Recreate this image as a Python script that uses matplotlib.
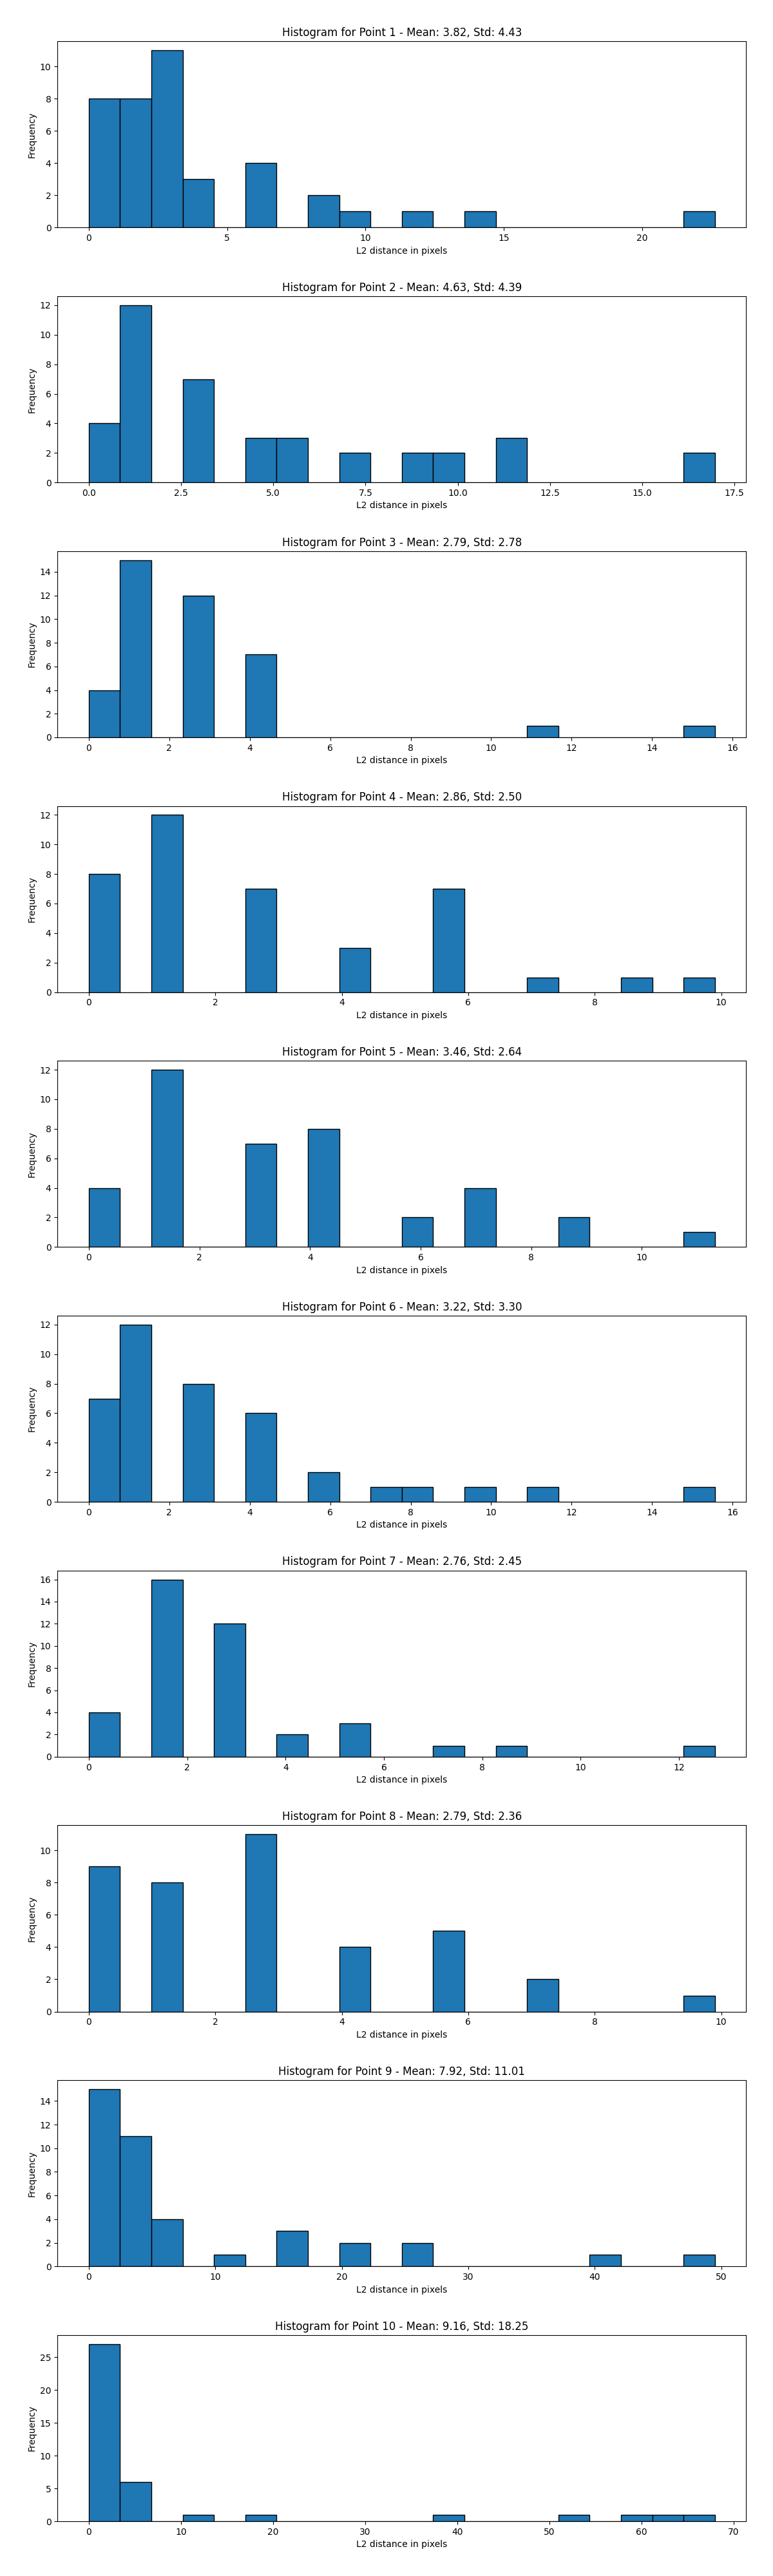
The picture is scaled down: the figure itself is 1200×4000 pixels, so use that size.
import numpy as np
import matplotlib
matplotlib.use("Agg")
import matplotlib.pyplot as plt

# Per-point histogram data: 20 equal-width bins spanning [range_min, range_max]
range_min = [0.0, 0.0, 0.0, 0.0, 0.0, 0.0, 0.0, 0.0, 0.0, 0.0]
range_max = [22.63, 16.97, 15.56, 9.90, 11.32, 15.56, 12.73, 9.90, 49.50, 67.96]

counts_p1 = [8, 8, 11, 3, 0, 4, 0, 2, 1, 0, 1, 0, 1, 0, 0, 0, 0, 0, 0, 1]
counts_p2 = [4, 12, 0, 7, 0, 3, 3, 0, 2, 0, 2, 2, 0, 3, 0, 0, 0, 0, 0, 2]
counts_p3 = [4, 15, 0, 12, 0, 7, 0, 0, 0, 0, 0, 0, 0, 0, 1, 0, 0, 0, 0, 1]
counts_p4 = [8, 0, 12, 0, 0, 7, 0, 0, 3, 0, 0, 7, 0, 0, 1, 0, 0, 1, 0, 1]
counts_p5 = [4, 0, 12, 0, 0, 7, 0, 8, 0, 0, 2, 0, 4, 0, 0, 2, 0, 0, 0, 1]
counts_p6 = [7, 12, 0, 8, 0, 6, 0, 2, 0, 1, 1, 0, 1, 0, 1, 0, 0, 0, 0, 1]
counts_p7 = [4, 0, 16, 0, 12, 0, 2, 0, 3, 0, 0, 1, 0, 1, 0, 0, 0, 0, 0, 1]
counts_p8 = [9, 0, 8, 0, 0, 11, 0, 0, 4, 0, 0, 5, 0, 0, 2, 0, 0, 0, 0, 1]
counts_p9 = [15, 11, 4, 0, 1, 0, 3, 0, 2, 0, 2, 0, 0, 0, 0, 0, 1, 0, 0, 1]
counts_p10 = [27, 6, 0, 1, 0, 1, 0, 0, 0, 0, 0, 1, 0, 0, 0, 1, 0, 1, 1, 1]

means = [3.82, 4.63, 2.79, 2.86, 3.46, 3.22, 2.76, 2.79, 7.92, 9.16]
stds = [4.43, 4.39, 2.78, 2.50, 2.64, 3.30, 2.45, 2.36, 11.01, 18.25]

all_counts = [counts_p1, counts_p2, counts_p3, counts_p4, counts_p5,
              counts_p6, counts_p7, counts_p8, counts_p9, counts_p10]

fig, axes = plt.subplots(10, 1, figsize=(12, 40), dpi=100)
fig.subplots_adjust(left=0.0744, right=0.9653, top=0.9839, bottom=0.02125, hspace=0.369)
for i, ax in enumerate(axes):
    edges = np.linspace(range_min[i], range_max[i], len(all_counts[i]) + 1)
    ax.hist(edges[:-1], bins=edges, weights=all_counts[i], edgecolor='black')
    ax.set_title(f"Histogram for Point {i + 1} - Mean: {means[i]:.2f}, Std: {stds[i]:.2f}")
    ax.set_xlabel("L2 distance in pixels")
    ax.set_ylabel("Frequency")

fig.savefig("out.png")
